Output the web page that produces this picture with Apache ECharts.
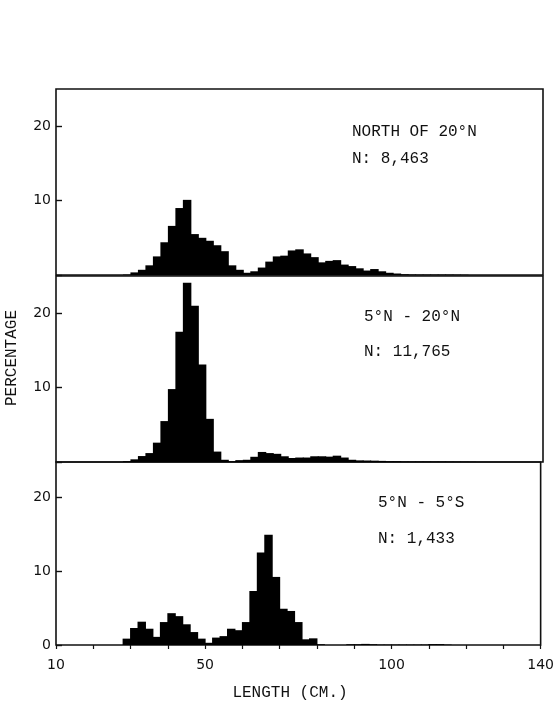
<!DOCTYPE html>
<html>
<head>
<meta charset="utf-8">
<script src="https://cdn.jsdelivr.net/npm/echarts@6/dist/echarts.min.js"></script>
<style>
html,body{margin:0;padding:0;background:#fff;}
#c{width:557px;height:705px;}
</style>
</head>
<body>
<div id="c"></div>
<script>
// ---- data ----
var binWidth = 2;                 // cm
var binStart = 28;                // left edge of the first bin (cm)
var northValues = [0.05, 0.35, 0.7, 1.3, 2.5, 4.4, 6.6, 9.0, 10.1, 5.5, 5.0, 4.6, 4.0, 3.2, 1.3, 0.7, 0.3, 0.5, 1.0, 1.8, 2.5, 2.6, 3.3, 3.45, 2.9, 2.4, 1.7, 1.9, 2.0, 1.4, 1.2, 0.9, 0.6, 0.8, 0.5, 0.3, 0.2, 0.1, 0.06, 0.05, 0.05, 0.05, 0.05, 0.05, 0.04, 0.03];
var midValues = [0.1, 0.36, 0.8, 1.2, 2.6, 5.5, 9.8, 17.5, 24.1, 21.0, 13.1, 5.8, 1.4, 0.3, 0.1, 0.25, 0.3, 0.7, 1.35, 1.2, 1.1, 0.77, 0.54, 0.6, 0.6, 0.77, 0.77, 0.72, 0.85, 0.6, 0.3, 0.22, 0.2, 0.18, 0.15, 0.1, 0.1, 0.06, 0.05, 0.05, 0.05, 0.05, 0.05, 0.04, 0.03, 0.03, 0.02];
var equatorValues = [0.86, 2.3, 3.15, 2.2, 1.1, 3.1, 4.3, 3.9, 2.8, 1.75, 0.86, 0.3, 1.0, 1.2, 2.2, 2.0, 3.1, 7.3, 12.5, 14.9, 9.2, 4.9, 4.6, 3.1, 0.77, 0.9, 0.1, 0, 0, 0, 0.1, 0.1, 0.15, 0.1, 0.05, 0.05, 0.05, 0.05, 0.05, 0.05, 0.05, 0.12, 0.12, 0.05];
var panelTitles = ['NORTH OF 20\u00B0N', '5\u00B0N - 20\u00B0N', '5\u00B0N - 5\u00B0S'];
var panelCounts = ['N: 8,463', 'N: 11,765', 'N: 1,433'];
var xTickLabels = [10, 50, 100, 140];
var yTickValues = [0, 10, 20];
var xTitle = 'LENGTH (CM.)';
var yTitle = 'PERCENTAGE';

function toBins(vals) {
  return vals.map(function (v, i) {
    var x0 = binStart + i * binWidth;
    return [x0, x0 + binWidth, v];
  });
}

var chart = echarts.init(document.getElementById('c'), null, {renderer: 'canvas'});

var grids = [
  {left: 56, right: 14, top: 89, height: 186},
  {left: 56, right: 14, top: 276, height: 186},
  {left: 56, right: 14, top: 462, height: 183}
];
var yMax = [25, 25, 183 / 7.4];
var seriesData = [northValues, midValues, equatorValues];

var monoFont = '"Liberation Mono", "DejaVu Sans Mono", monospace';
var sansFont = '"DejaVu Sans", sans-serif';

var option = {
  backgroundColor: '#fff',
  animation: false,
  grid: grids.map(function (g) {
    return Object.assign({show: true, borderColor: '#111', borderWidth: 1.6, backgroundColor: 'transparent'}, g);
  }),
  xAxis: [0, 1, 2].map(function (i) {
    var last = i === 2;
    return {
      type: 'value', gridIndex: i, min: 10, max: 140, interval: 10,
      splitLine: {show: false},
      axisLine: {show: false},
      axisTick: {show: last, inside: false, length: 4, lineStyle: {color: '#111', width: 1.2}},
      axisLabel: {
        show: last, margin: 13, color: '#111', fontFamily: sansFont, fontSize: 14,
        formatter: function (v) { return xTickLabels.indexOf(v) >= 0 ? String(v) : ''; }
      }
    };
  }),
  yAxis: [0, 1, 2].map(function (i) {
    return {
      type: 'value', gridIndex: i, min: 0, max: yMax[i], interval: 10,
      splitLine: {show: false},
      axisLine: {show: false},
      axisTick: {show: true, inside: true, length: 6, customValues: yTickValues, lineStyle: {color: '#111', width: 1.4}},
      axisLabel: {
        margin: 5, color: '#111', fontFamily: sansFont, fontSize: 14,
        customValues: i === 2 ? yTickValues : yTickValues.slice(1),
        formatter: function (v) {
          if (v % 10 !== 0) return '';
          if (v === 0 && i !== 2) return '';
          return String(v);
        }
      }
    };
  }),
  series: [0, 1, 2].map(function (i) {
    return {
      type: 'custom', xAxisIndex: i, yAxisIndex: i,
      encode: {x: [0, 1], y: 2},
      data: toBins(seriesData[i]),
      renderItem: function (params, api) {
        var p0 = api.coord([api.value(0), api.value(2)]);
        var p1 = api.coord([api.value(1), 0]);
        return {
          type: 'rect',
          shape: {x: p0[0] - 0.5, y: p0[1], width: p1[0] - p0[0] + 1, height: p1[1] - p0[1]},
          style: {fill: '#000'}
        };
      }
    };
  }),
  graphic: [
    {type: 'text', left: 352, top: 124, style: {text: panelTitles[0], font: '16px ' + monoFont, fill: '#111'}},
    {type: 'text', left: 352, top: 151, style: {text: panelCounts[0], font: '16px ' + monoFont, fill: '#111'}},
    {type: 'text', left: 364, top: 309, style: {text: panelTitles[1], font: '16px ' + monoFont, fill: '#111'}},
    {type: 'text', left: 364, top: 344, style: {text: panelCounts[1], font: '16px ' + monoFont, fill: '#111'}},
    {type: 'text', left: 378, top: 495, style: {text: panelTitles[2], font: '16px ' + monoFont, fill: '#111'}},
    {type: 'text', left: 378, top: 531, style: {text: panelCounts[2], font: '16px ' + monoFont, fill: '#111'}},
    {type: 'text', x: 290, y: 693, style: {text: xTitle, font: '16px ' + monoFont, fill: '#111', align: 'center', verticalAlign: 'middle'}},
    {type: 'text', x: 12, y: 358, rotation: Math.PI / 2, style: {text: yTitle, font: '16px ' + monoFont, fill: '#111', align: 'center', verticalAlign: 'middle'}}
  ]
};
chart.setOption(option);
</script>
</body>
</html>
